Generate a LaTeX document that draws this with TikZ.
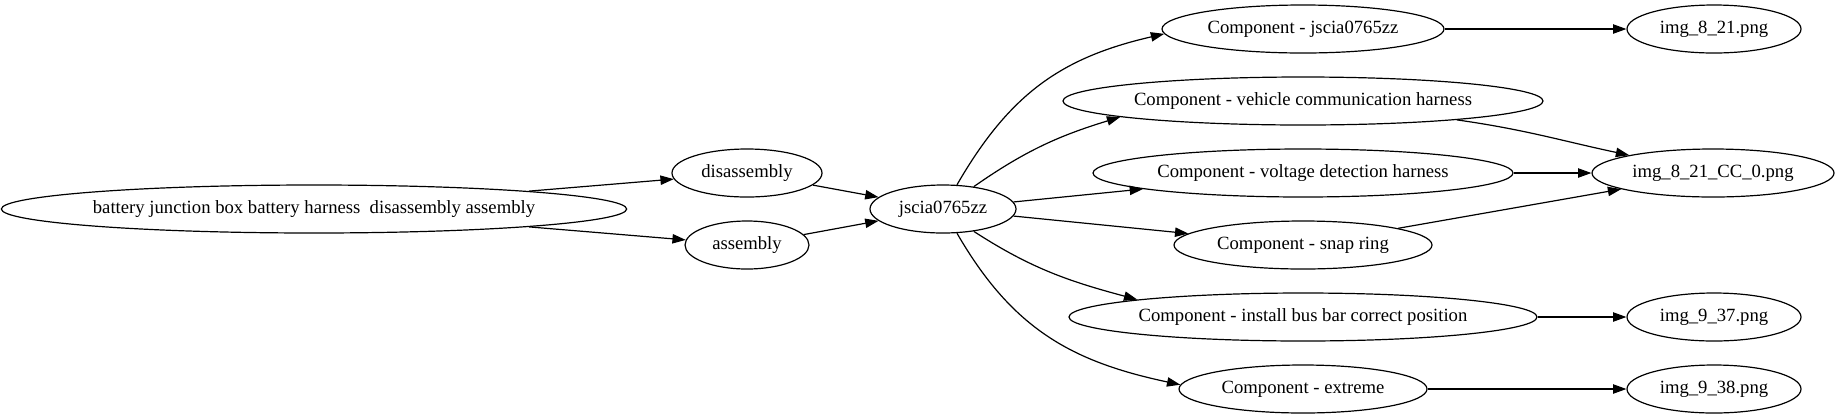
\documentclass[tikz,border=0pt]{standalone}
\usepackage{fontspec}
\setmainfont{Liberation Serif}
\usetikzlibrary{shapes.geometric,arrows.meta}
\tikzset{
  ell/.style={ellipse, draw, line width=0.9pt, minimum width=#1*1.5pt, minimum height=36pt, inner sep=0pt,
    font=\fontsize{14}{16}\selectfont},
  arr/.style={-{Triangle[length=10pt,width=7pt]}, line width=0.9pt},
}
\begin{document}
\begin{tikzpicture}[x=0.75pt,y=-0.75pt]
\useasboundingbox (0,0) rectangle (1841,419);
\node[ell=310] (main) at (314,209) {battery junction box battery harness\ \ disassembly assembly};
\node[ell=75] (dis) at (747,173) {disassembly};
\node[ell=62] (asm) at (747,245) {assembly};
\node[ell=73] (js) at (943,209) {jscia0765zz};
\node[ell=141] (c1) at (1303,29) {Component - jscia0765zz};
\node[ell=240] (c2) at (1303,101) {Component - vehicle communication harness};
\node[ell=210] (c3) at (1303,173) {Component - voltage detection harness};
\node[ell=129] (c4) at (1303,245) {Component - snap ring};
\node[ell=234] (c5) at (1303,317) {Component - install bus bar correct position};
\node[ell=124] (c6) at (1303,389) {Component - extreme};
\node[ell=87] (i1) at (1714,29) {img\_8\_21.png};
\node[ell=121] (i2) at (1713,173) {img\_8\_21\_CC\_0.png};
\node[ell=87] (i3) at (1714,317) {img\_9\_37.png};
\node[ell=87] (i4) at (1714,389) {img\_9\_38.png};

\draw[arr] (main) -- (dis);
\draw[arr] (main) -- (asm);
\draw[arr] (dis) -- (js);
\draw[arr] (asm) -- (js);
\draw[arr] (js.60) to[out=60,in=193,looseness=1.05] (c1.182);
\draw[arr] (js.36) to[out=35,in=197] (c2.185);
\draw[arr] (js) -- (c3);
\draw[arr] (js) -- (c4);
\draw[arr] (js.-36) to[out=-33,in=165] (c5.174);
\draw[arr] (js.-60) to[out=-60,in=168,looseness=1.05] (c6.178);
\draw[arr] (c1) -- (i1);
\draw[arr] (c2.-7.6) to[out=-8,in=168] (i2);
\draw[arr] (c3) -- (i2);
\draw[arr] (c4) -- (i2);
\draw[arr] (c5) -- (i3);
\draw[arr] (c6) -- (i4);
\end{tikzpicture}
\end{document}
